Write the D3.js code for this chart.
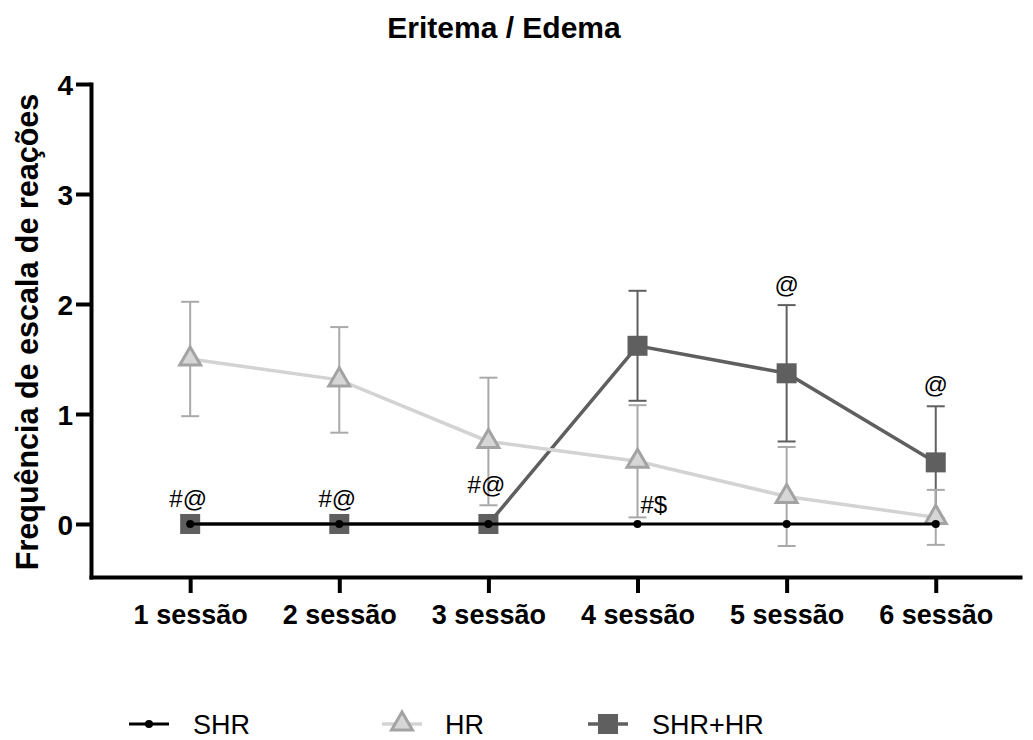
<!DOCTYPE html>
<html>
<head>
<meta charset="utf-8">
<script src="https://cdn.jsdelivr.net/npm/d3@7"></script>
<style>
  html, body { margin: 0; padding: 0; background: #fff; }
  svg { display: block; font-family: "Liberation Sans", Arial, sans-serif; }
</style>
</head>
<body>
<svg id="chart" width="1033" height="740"></svg>
<script>
// Sessions on the x axis
const sessions = ["1 sessão", "2 sessão", "3 sessão", "4 sessão", "5 sessão", "6 sessão"];

// Group means and error (SEM) per session
const shrMean    = [0, 0, 0, 0, 0, 0];
const hrMean     = [1.50, 1.31, 0.75, 0.57, 0.25, 0.06];
const hrErr      = [0.52, 0.48, 0.58, 0.51, 0.45, 0.25];
const shrHrMean  = [0, 0, 0, 1.62, 1.37, 0.56];
const shrHrErr   = [0, 0, 0, 0.50, 0.62, 0.51];

// Y axis ticks
const yTicks = [0, 1, 2, 3, 4];

// Significance marks: session index, y value of the baseline, label
const marks = [
  { i: 0, y: 0.15, dx: -2, side: false, label: "#@" },
  { i: 1, y: 0.15, dx: -2, side: false, label: "#@" },
  { i: 2, y: 0.28, dx: -2, side: false, label: "#@" },
  { i: 3, y: 0.10, dx: 3,  side: true,  label: "#$" },
  { i: 4, y: 2.10, dx: 0,  side: false, label: "@" },
  { i: 5, y: 1.19, dx: 0,  side: false, label: "@" }
];

const svg = d3.select("#chart");

const x = d3.scaleLinear().domain([-0.665, 5.565]).range([91, 1020]);
const y = d3.scaleLinear().domain([-0.482, 4]).range([577, 84]);

const cLight = "#d3d3d3", cLightBar = "#a9a9a9", cLightEdge = "#a3a3a3", cLightFill = "#d6d6d6";
const cDark = "#5f5f5f";

// Title
svg.append("text")
  .attr("x", 504).attr("y", 38)
  .attr("text-anchor", "middle")
  .attr("font-weight", "bold").attr("font-size", 30)
  .text("Eritema / Edema");

// Y axis title
svg.append("text")
  .attr("transform", "translate(38,332) rotate(-90)")
  .attr("text-anchor", "middle")
  .attr("font-weight", "bold").attr("font-size", 30.5)
  .text("Frequência de escala de reações");

// Axes
const yAxis = svg.append("g")
  .attr("transform", "translate(91,0)")
  .call(d3.axisLeft(y).tickValues(yTicks).tickSize(15).tickSizeOuter(0).tickPadding(3).tickFormat(d3.format("d")));
const xAxis = svg.append("g")
  .attr("transform", "translate(0,577)")
  .call(d3.axisBottom(x).tickValues(d3.range(sessions.length)).tickSize(16).tickSizeOuter(0).tickPadding(12).tickFormat(i => sessions[i]));

[yAxis, xAxis].forEach(g => {
  g.select(".domain").attr("stroke", "#000").attr("stroke-width", 4).attr("stroke-linecap", "square");
  g.selectAll(".tick line").attr("stroke", "#000").attr("stroke-width", 4);
  g.selectAll(".tick text").attr("fill", "#000").attr("font-weight", "bold")
    .attr("font-family", "'Liberation Sans', Arial, sans-serif");
});
yAxis.selectAll(".tick text").attr("font-size", 28).attr("dy", "0.36em");
xAxis.selectAll(".tick text").attr("font-size", 27).attr("dy", "0.72em");

const plot = svg.append("g");

function errorBars(mean, err, color) {
  const g = plot.append("g").attr("stroke", color).attr("stroke-width", 2).attr("fill", "none");
  mean.forEach((m, i) => {
    if (!err[i]) return;
    const cx = x(i), y0 = y(m - err[i]), y1 = y(m + err[i]);
    g.append("line").attr("x1", cx).attr("x2", cx).attr("y1", y0).attr("y2", y1);
    g.append("line").attr("x1", cx - 9).attr("x2", cx + 9).attr("y1", y0).attr("y2", y0);
    g.append("line").attr("x1", cx - 9).attr("x2", cx + 9).attr("y1", y1).attr("y2", y1);
  });
}

const line = d3.line().x((d, i) => x(i)).y(d => y(d));

// SHR+HR
errorBars(shrHrMean, shrHrErr, cDark);
plot.append("path").datum(shrHrMean).attr("d", line)
  .attr("fill", "none").attr("stroke", cDark).attr("stroke-width", 3.5);
plot.selectAll(".sq").data(shrHrMean).join("rect")
  .attr("x", (d, i) => x(i) - 10).attr("y", d => y(d) - 10)
  .attr("width", 20).attr("height", 20).attr("fill", cDark);

// HR
errorBars(hrMean, hrErr, cLightBar);
plot.append("path").datum(hrMean).attr("d", line)
  .attr("fill", "none").attr("stroke", cLight).attr("stroke-width", 3.5);
const tri = d3.symbol(d3.symbolTriangle, 190);
plot.selectAll(".tri").data(hrMean).join("path")
  .attr("d", tri)
  .attr("transform", (d, i) => `translate(${x(i)},${y(d)})`)
  .attr("fill", cLightFill).attr("stroke", cLightEdge).attr("stroke-width", 3).attr("stroke-linejoin", "miter");

// SHR
plot.append("path").datum(shrMean).attr("d", line)
  .attr("fill", "none").attr("stroke", "#000").attr("stroke-width", 3);
plot.selectAll(".dot").data(shrMean).join("circle")
  .attr("cx", (d, i) => x(i)).attr("cy", d => y(d)).attr("r", 4).attr("fill", "#000");

// Significance marks
svg.append("g").selectAll("text").data(marks).join("text")
  .attr("x", d => x(d.i) + d.dx).attr("y", d => y(d.y))
  .attr("text-anchor", d => d.side ? "start" : "middle")
  .attr("font-size", 24)
  .text(d => d.label);

// Legend
const legend = svg.append("g").attr("transform", "translate(0,724)");
const lgShr = legend.append("g").attr("transform", "translate(149,0)");
lgShr.append("line").attr("x1", -20).attr("x2", 20).attr("stroke", "#000").attr("stroke-width", 3);
lgShr.append("circle").attr("r", 4).attr("fill", "#000");
legend.append("text").attr("x", 193).attr("y", 10).attr("font-size", 27).text("SHR");

const lgHr = legend.append("g").attr("transform", "translate(402,0)");
lgHr.append("line").attr("x1", -20).attr("x2", 20).attr("stroke", cLight).attr("stroke-width", 3.5);
lgHr.append("path").attr("d", tri).attr("fill", cLightFill).attr("stroke", cLightEdge).attr("stroke-width", 3);
legend.append("text").attr("x", 445).attr("y", 10).attr("font-size", 27).text("HR");

const lgBoth = legend.append("g").attr("transform", "translate(608,0)");
lgBoth.append("line").attr("x1", -20).attr("x2", 20).attr("stroke", cDark).attr("stroke-width", 3.5);
lgBoth.append("rect").attr("x", -10).attr("y", -10).attr("width", 20).attr("height", 20).attr("fill", cDark);
legend.append("text").attr("x", 652).attr("y", 10).attr("font-size", 27).text("SHR+HR");
</script>
</body>
</html>
